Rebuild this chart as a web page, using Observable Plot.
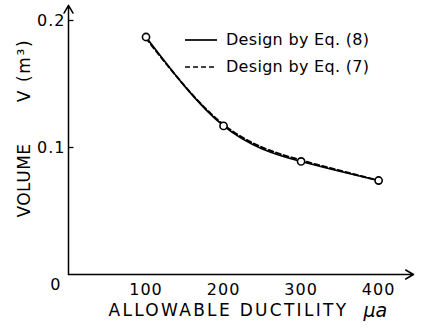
<!DOCTYPE html>
<html>
<head>
<meta charset="utf-8">
<script src="https://cdn.jsdelivr.net/npm/d3@7"></script>
<script src="https://cdn.jsdelivr.net/npm/@observablehq/plot@0.6"></script>
<style>
  body { margin: 0; background: #fff; }
  #wrap { position: relative; width: 428px; height: 332px; font-family: "DejaVu Sans", sans-serif; }
  #legend { position: absolute; left: 185px; top: 26px; font-size: 16px; color: #000; line-height: 27px; letter-spacing: 0.3px; }
  #legend div { display: flex; align-items: center; }
  #legend svg { margin-right: 9px; }
</style>
</head>
<body>
<div id="wrap"><div id="legend"></div></div>
<script>
const ductility = [100, 200, 300, 400];
const volEq8 = [0.187, 0.117, 0.089, 0.074];
const volEq7 = [0.186, 0.118, 0.090, 0.074];
const yTicks = [0, 0.1, 0.2];
const xTicks = [100, 200, 300, 400];
const seriesNames = ["Design by Eq. (8)", "Design by Eq. (7)"];

const eq8 = ductility.map((d, i) => ({x: d, y: volEq8[i]}));
const eq7 = ductility.map((d, i) => ({x: d, y: volEq7[i]}));

const plot = Plot.plot({
  width: 428,
  height: 332,
  marginLeft: 68,
  marginRight: 15,
  marginTop: 20,
  marginBottom: 58,
  style: {fontFamily: "DejaVu Sans, sans-serif", background: "white", color: "black", overflow: "visible"},
  x: {domain: [0, 445]},
  y: {domain: [0, 0.2]},
  marks: [
    Plot.arrow([0], {x1: 0, y1: 0, x2: 0, y2: 0.212, stroke: "black", strokeWidth: 1.5, headLength: 9, clip: false}),
    Plot.arrow([0], {x1: 0, y1: 0, x2: 445, y2: 0, stroke: "black", strokeWidth: 1.5, headLength: 9, clip: false}),
    Plot.ruleY(yTicks.slice(1), {x1: 0, x2: 7, stroke: "black", strokeWidth: 1.3}),
    Plot.axisY({ticks: yTicks, tickSize: 0, tickPadding: 3, fontSize: 16, tickFormat: d => d === 0 ? "0" : d.toFixed(1), label: null}),
    Plot.axisX({ticks: xTicks, tickSize: 0, tickPadding: 9, fontSize: 16, label: null}),
    Plot.line(eq8, {x: "x", y: "y", curve: "natural", stroke: "black", strokeWidth: 1.6}),
    Plot.line(eq7, {x: "x", y: "y", curve: "natural", stroke: "black", strokeWidth: 1.9, strokeDasharray: "5,3"}),
    Plot.dot(eq8, {x: "x", y: "y", r: 3.6, fill: "white", stroke: "black", strokeWidth: 1.6}),
    Plot.text(["ALLOWABLE DUCTILITY"], {frameAnchor: "bottom-left", text: d => d, dx: 40, dy: 36, fontSize: 17, textAnchor: "start", lineAnchor: "middle"}),
    Plot.text(["μa"], {frameAnchor: "bottom-left", text: d => d, dx: 295, dy: 36, fontSize: 19, fontStyle: "italic", textAnchor: "start", lineAnchor: "middle"}),
    Plot.text(["VOLUME"], {frameAnchor: "top-left", text: d => d, rotate: -90, dx: -44, dy: 160, fontSize: 17, textAnchor: "middle", lineAnchor: "middle"}),
    Plot.text(["V (m³)"], {frameAnchor: "top-left", text: d => d, rotate: -90, dx: -44, dy: 50, fontSize: 17, textAnchor: "middle", lineAnchor: "middle"})
  ]
});
document.getElementById("wrap").prepend(plot);

d3.select(plot).selectAll("text").each(function() {
  const t = this.textContent;
  if (t === "ALLOWABLE DUCTILITY") d3.select(this).style("letter-spacing", "2.3px");
  if (t === "VOLUME") d3.select(this).style("letter-spacing", "0.5px");
  if (t === "V (m³)") d3.select(this).style("letter-spacing", "1.6px");
  if (t === "0") d3.select(this).attr("dy", "0.62em").attr("dx", "-4");
});
d3.select(plot).selectAll("[aria-label='x-axis tick label'] text, [aria-label='y-axis tick label'] text").style("letter-spacing", "1px");

const legend = document.getElementById("legend");
seriesNames.forEach((name, i) => {
  const row = document.createElement("div");
  row.innerHTML = `<svg width="32" height="6"><line x1="0" y1="3" x2="32" y2="3" stroke="black" stroke-width="1.7" ${i === 1 ? 'stroke-dasharray="5,3"' : ''}/></svg><span>${name}</span>`;
  legend.appendChild(row);
});
</script>
</body>
</html>
